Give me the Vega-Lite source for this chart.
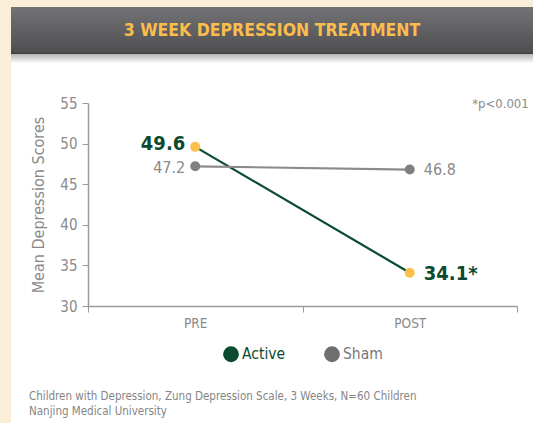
{
  "$schema": "https://vega.github.io/schema/vega-lite/v6.json",
  "background": "white",
  "padding": 0,
  "spacing": 0,
  "resolve": {"legend": {"color": "independent"}, "scale": {"color": "independent"}},
  "config": {
    "font": "DejaVu Sans Condensed, sans-serif",
    "view": {"stroke": null},
    "concat": {"spacing": 0},
    "legend": {"layout": {"bottom": {"anchor": "middle"}}}
  },
  "hconcat": [
    {
      "width": 11,
      "height": 423,
      "view": {"fill": "#fbeed8", "stroke": null},
      "data": {"values": []},
      "mark": "rect"
    },
    {
      "spacing": 0,
      "resolve": {"legend": {"color": "independent"}, "scale": {"color": "independent"}},
      "vconcat": [
        {
          "width": 522,
          "height": 7,
          "view": {"fill": "#fbeed8", "stroke": null},
          "data": {"values": []},
          "mark": "rect"
        },
        {
          "width": 522,
          "height": 47,
          "view": {
            "fill": {
              "gradient": "linear",
              "x1": 0, "y1": 0, "x2": 0, "y2": 1,
              "stops": [
                {"offset": 0, "color": "#737375"},
                {"offset": 0.96, "color": "#4f4f51"},
                {"offset": 1, "color": "#3a3a3a"}
              ]
            },
            "stroke": null
          },
          "data": {"values": [{"heading": "3 WEEK DEPRESSION TREATMENT"}]},
          "mark": {"type": "text", "fontSize": 17.5, "fontWeight": "bold", "color": "#fbbd4c"},
          "encoding": {"text": {"field": "heading"}}
        },
        {
          "width": 522,
          "height": 42,
          "view": {
            "fill": {
              "gradient": "linear",
              "x1": 0, "y1": 0, "x2": 0, "y2": 1,
              "stops": [
                {"offset": 0, "color": "#b4b4b4"},
                {"offset": 0.22, "color": "#ffffff"},
                {"offset": 1, "color": "#ffffff"}
              ]
            },
            "stroke": null
          },
          "data": {"values": []},
          "mark": "rect"
        },
        {
          "spacing": 0,
          "resolve": {"legend": {"color": "independent"}, "scale": {"color": "independent"}},
          "title": {
            "text": ["Children with Depression, Zung Depression Scale, 3 Weeks, N=60 Children", "Nanjing Medical University"],
            "orient": "bottom",
            "anchor": "start",
            "dx": 18,
            "fontSize": 11.5,
            "fontWeight": "normal",
            "color": "#858585",
            "offset": 28,
            "lineHeight": 15
          },
          "hconcat": [
            {
              "width": 19,
              "height": 1,
              "data": {"values": []},
              "mark": "rect"
            },
            {
              "width": 429,
              "height": 203,
              "data": {
                "values": [
                  {"series": "Active", "time": "PRE", "score": 49.6, "label": "49.6"},
                  {"series": "Active", "time": "POST", "score": 34.1, "label": "34.1*"},
                  {"series": "Sham", "time": "PRE", "score": 47.2, "label": "47.2"},
                  {"series": "Sham", "time": "POST", "score": 46.8, "label": "46.8"}
                ]
              },
              "encoding": {
                "x": {
                  "field": "time",
                  "type": "nominal",
                  "sort": ["PRE", "POST"],
                  "scale": {"paddingInner": 0, "paddingOuter": 0},
                  "axis": {
                    "title": null,
                    "labelAngle": 0,
                    "labelFontSize": 13.5,
                    "labelColor": "#8a8a8a",
                    "tickBand": "extent",
                    "tickSize": 6,
                    "labelPadding": 4,
                    "domainColor": "#9a9a9a",
                    "domainWidth": 1.5,
                    "tickColor": "#9a9a9a"
                  }
                },
                "y": {
                  "field": "score",
                  "type": "quantitative",
                  "scale": {"domain": [30, 55]},
                  "axis": {
                    "values": [30, 35, 40, 45, 50, 55],
                    "title": "Mean Depression Scores",
                    "titleFontSize": 16,
                    "titleFontWeight": "normal",
                    "titleColor": "#8a8a8a",
                    "titlePadding": 13,
                    "labelFontSize": 15,
                    "labelColor": "#8a8a8a",
                    "labelPadding": 5,
                    "tickSize": 6,
                    "tickColor": "#9a9a9a",
                    "domainColor": "#9a9a9a",
                    "domainWidth": 1.5,
                    "grid": false
                  }
                }
              },
              "layer": [
                {
                  "mark": {"type": "line", "strokeWidth": 2.2},
                  "encoding": {
                    "color": {
                      "field": "series",
                      "type": "nominal",
                      "scale": {"domain": ["Active", "Sham"], "range": ["#0b4a30", "#8a8a8c"]},
                      "legend": {
                        "title": null,
                        "orient": "bottom",
                        "direction": "horizontal",
                        "symbolType": "circle",
                        "symbolSize": 250,
                        "labelFontSize": 15.5,
                        "labelOffset": 3,
                        "columnPadding": 38,
                        "offset": 16,
                        "encode": {
                          "symbols": {
                            "update": {
                              "fill": {"signal": "datum.value === 'Active' ? '#0b4a30' : '#6e6e70'"},
                              "stroke": {"value": "transparent"},
                              "strokeWidth": {"value": 0}
                            }
                          },
                          "labels": {
                            "update": {
                              "fill": {"signal": "datum.value === 'Active' ? '#0b4a30' : '#77777a'"}
                            }
                          }
                        }
                      }
                    }
                  }
                },
                {
                  "mark": {"type": "point", "filled": true, "size": 100, "opacity": 1},
                  "encoding": {
                    "fill": {
                      "field": "series",
                      "type": "nominal",
                      "scale": {"domain": ["Active", "Sham"], "range": ["#fbbf4e", "#808082"]},
                      "legend": null
                    }
                  }
                },
                {
                  "transform": [{"filter": "datum.series === 'Active' && datum.time === 'PRE'"}],
                  "mark": {"type": "text", "align": "right", "dx": -10, "dy": -3, "fontSize": 20, "fontWeight": "bold", "color": "#0b4a30"},
                  "encoding": {"text": {"field": "label"}}
                },
                {
                  "transform": [{"filter": "datum.series === 'Active' && datum.time === 'POST'"}],
                  "mark": {"type": "text", "align": "left", "dx": 14, "dy": 1, "fontSize": 20, "fontWeight": "bold", "color": "#0b4a30"},
                  "encoding": {"text": {"field": "label"}}
                },
                {
                  "transform": [{"filter": "datum.series === 'Sham' && datum.time === 'PRE'"}],
                  "mark": {"type": "text", "align": "right", "dx": -10, "dy": 2, "fontSize": 16, "color": "#8a8a8a"},
                  "encoding": {"text": {"field": "label"}}
                },
                {
                  "transform": [{"filter": "datum.series === 'Sham' && datum.time === 'POST'"}],
                  "mark": {"type": "text", "align": "left", "dx": 14, "dy": 0, "fontSize": 16, "color": "#8a8a8a"},
                  "encoding": {"text": {"field": "label"}}
                },
                {
                  "data": {"values": [{"note": "*p<0.001", "time": "POST", "score": 55}]},
                  "mark": {"type": "text", "align": "right", "dx": 119, "dy": 1, "fontSize": 13, "color": "#8a8a8a"},
                  "encoding": {"text": {"field": "note"}}
                }
              ]
            }
          ]
        }
      ]
    }
  ]
}
